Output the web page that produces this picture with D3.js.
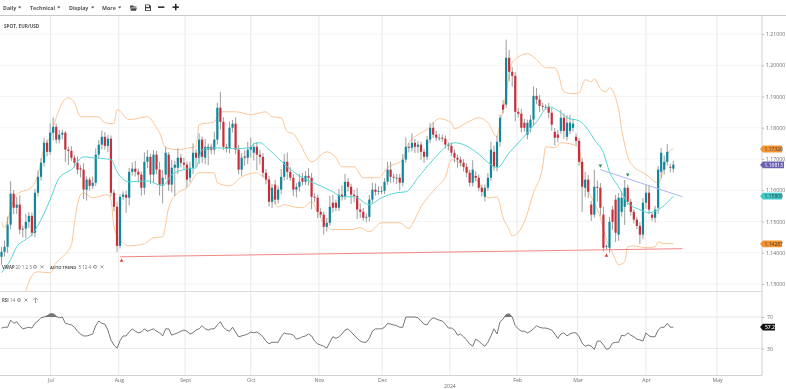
<!DOCTYPE html>
<html><head><meta charset="utf-8">
<script src="https://cdnjs.cloudflare.com/ajax/libs/d3/7.8.5/d3.min.js"></script>
<style>html,body{margin:0;padding:0;background:#fff;overflow:hidden}svg{display:block;filter:blur(.3px)}text{font-family:"Open Sans",sans-serif}</style>
</head><body><svg id="c" width="786" height="389"></svg>
<script>
const closes=[1.1403,1.1419,1.1490,1.1589,1.1544,1.1554,1.1474,1.1477,1.1499,1.1518,
1.1464,1.1592,1.1643,1.1688,1.1752,1.1723,1.1784,1.1803,1.1762,1.1778,
1.1784,1.1730,1.1726,1.1704,1.1688,1.1666,1.1666,1.1602,1.1634,1.1614,
1.1624,1.1714,1.1746,1.1771,1.1742,1.1765,1.1592,1.1547,1.1422,1.1579,
1.1586,1.1576,1.1659,1.1669,1.1659,1.1650,1.1608,1.1691,1.1707,1.1650,
1.1714,1.1666,1.1618,1.1640,1.1720,1.1618,1.1672,1.1682,1.1704,1.1688,
1.1682,1.1634,1.1672,1.1720,1.1704,1.1762,1.1707,1.1739,1.1739,1.1730,
1.1762,1.1864,1.1819,1.1739,1.1733,1.1800,1.1813,1.1730,1.1666,1.1704,
1.1704,1.1730,1.1739,1.1739,1.1714,1.1707,1.1656,1.1634,1.1563,1.1608,
1.1570,1.1602,1.1643,1.1691,1.1659,1.1640,1.1602,1.1611,1.1627,1.1627,
1.1646,1.1640,1.1579,1.1576,1.1531,1.1522,1.1483,1.1496,1.1547,1.1544,
1.1544,1.1586,1.1579,1.1627,1.1611,1.1586,1.1582,1.1538,1.1531,1.1512,
1.1515,1.1570,1.1602,1.1595,1.1598,1.1598,1.1627,1.1666,1.1643,1.1640,
1.1640,1.1624,1.1698,1.1739,1.1736,1.1752,1.1739,1.1746,1.1723,1.1707,
1.1762,1.1800,1.1778,1.1768,1.1768,1.1765,1.1746,1.1742,1.1720,1.1704,
1.1698,1.1688,1.1675,1.1656,1.1624,1.1666,1.1640,1.1608,1.1595,1.1608,
1.1640,1.1730,1.1675,1.1755,1.1832,1.1858,1.2024,1.1979,1.1966,1.1851,
1.1845,1.1800,1.1800,1.1816,1.1826,1.1902,1.1890,1.1870,1.1867,1.1867,
1.1848,1.1810,1.1768,1.1768,1.1832,1.1790,1.1816,1.1816,1.1813,1.1758,
1.1691,1.1611,1.1634,1.1595,1.1522,1.1611,1.1608,1.1544,1.1416,1.1422,
1.1499,1.1499,1.1464,1.1576,1.1576,1.1608,1.1563,1.1531,1.1506,1.1486,
1.1458,1.1560,1.1592,1.1538,1.1512,1.1538,1.1666,1.1720,1.1691,1.1723,
1.1672,1.1682];
const opens=[1.1387,1.1403,1.1419,1.1490,1.1589,1.1544,1.1554,1.1474,1.1477,1.1499,
1.1518,1.1464,1.1592,1.1643,1.1688,1.1752,1.1723,1.1784,1.1803,1.1762,
1.1778,1.1784,1.1730,1.1726,1.1704,1.1688,1.1670,1.1666,1.1602,1.1634,
1.1614,1.1624,1.1714,1.1746,1.1771,1.1742,1.1765,1.1592,1.1547,1.1422,
1.1579,1.1586,1.1576,1.1659,1.1669,1.1659,1.1650,1.1608,1.1691,1.1707,
1.1650,1.1714,1.1666,1.1618,1.1650,1.1714,1.1618,1.1672,1.1672,1.1704,
1.1688,1.1682,1.1640,1.1672,1.1720,1.1704,1.1762,1.1704,1.1730,1.1739,
1.1730,1.1762,1.1864,1.1819,1.1739,1.1733,1.1800,1.1813,1.1730,1.1666,
1.1708,1.1704,1.1730,1.1720,1.1739,1.1714,1.1707,1.1656,1.1634,1.1563,
1.1618,1.1570,1.1602,1.1643,1.1691,1.1659,1.1640,1.1602,1.1611,1.1640,
1.1627,1.1646,1.1640,1.1579,1.1576,1.1531,1.1522,1.1483,1.1496,1.1560,
1.1560,1.1544,1.1586,1.1579,1.1627,1.1611,1.1586,1.1582,1.1538,1.1531,
1.1512,1.1515,1.1570,1.1602,1.1595,1.1598,1.1598,1.1627,1.1666,1.1643,
1.1640,1.1640,1.1624,1.1698,1.1739,1.1736,1.1752,1.1739,1.1746,1.1723,
1.1707,1.1762,1.1800,1.1778,1.1768,1.1768,1.1765,1.1746,1.1742,1.1720,
1.1704,1.1698,1.1688,1.1675,1.1656,1.1624,1.1646,1.1640,1.1608,1.1579,
1.1608,1.1640,1.1723,1.1675,1.1755,1.1874,1.1874,1.2024,1.1979,1.1966,
1.1851,1.1845,1.1816,1.1778,1.1800,1.1826,1.1902,1.1890,1.1870,1.1867,
1.1867,1.1848,1.1787,1.1778,1.1790,1.1832,1.1771,1.1790,1.1800,1.1771,
1.1758,1.1691,1.1608,1.1634,1.1554,1.1522,1.1611,1.1608,1.1522,1.1419,
1.1416,1.1538,1.1570,1.1458,1.1531,1.1547,1.1608,1.1563,1.1531,1.1506,
1.1486,1.1458,1.1560,1.1592,1.1522,1.1512,1.1544,1.1659,1.1666,1.1691,
1.1675,1.1669];
// wick lengths beyond the candle body, in pips
const upperWickPips=[15,20,25,40,12,25,30,10,25,12,10,12,20,15,15,10,30,30,10,15,
10,6,10,15,8,20,10,20,10,8,20,20,15,20,15,12,10,10,15,8,
10,12,12,20,25,10,10,30,22,10,15,12,25,25,20,8,25,12,30,12,
15,10,20,30,12,20,10,25,10,10,25,16,51,15,10,20,12,20,15,15,
20,25,30,12,15,15,12,12,12,12,15,12,25,25,30,15,12,12,25,15,
15,25,15,12,10,12,10,15,35,25,10,18,30,25,12,10,15,25,20,12,
10,15,22,20,15,15,12,25,25,10,12,12,18,30,12,30,12,12,10,10,
12,15,18,12,12,10,10,8,10,10,10,10,12,12,10,30,15,10,10,10,
15,25,20,20,10,15,58,25,15,12,12,15,12,10,15,30,25,15,10,8,
12,15,12,15,25,15,25,25,15,10,10,12,25,15,12,55,20,15,25,5,
15,12,15,15,20,25,10,10,8,8,12,15,25,25,5,12,12,15,20,25,10,12];
const lowerWickPips=[25,15,20,15,20,20,15,25,30,20,12,15,12,12,12,15,10,25,12,12,
15,40,45,10,15,15,25,30,35,15,10,10,12,15,12,20,12,15,20,8,
10,48,25,12,15,25,25,22,20,30,25,15,35,60,15,20,25,90,20,15,
15,25,15,20,30,20,20,20,50,15,15,15,25,10,12,15,15,15,15,20,
25,20,25,25,50,25,15,15,15,20,15,12,15,12,25,10,20,25,15,12,
10,25,40,15,20,10,25,15,10,15,10,10,12,10,15,30,20,30,20,10,
15,15,12,12,10,10,10,10,20,15,20,25,12,10,15,12,20,20,25,20,
10,12,10,10,10,10,12,15,10,15,25,12,15,15,12,12,12,10,15,15,
10,10,12,15,15,12,10,30,35,30,12,15,12,15,15,20,15,20,12,10,
18,20,25,15,10,25,12,10,12,15,12,80,30,20,20,10,45,25,12,10,
15,25,30,20,15,58,10,12,12,10,30,15,20,15,10,15,20,20,15,12,15,12];
const upperDays=[0,1,2,5,10,12,14,16,18,20,22,24,26,29,32,34,37,38,42,48,51,52,54,58,62,64,65,70,72,77,82,84,87,89,92,94,96,98,102,107,110,112,116,119,124,127,132,134,137,140,144,148,149,153,157,160,163,164,165,168,170,173,176,179,182,183,185,188,190,192,194,195,197,199,200,203,204,205,206,208,211,212,216,218,219,221];
const upperBand=[1.1496,1.1480,1.1506,1.1586,1.1611,1.1650,1.1736,1.1771,1.1832,1.1880,1.1896,1.1880,1.1835,1.1835,1.1835,1.1816,1.1813,1.1858,1.1826,1.1835,1.1800,1.1784,1.1736,1.1730,1.1736,1.1739,1.1810,1.1819,1.1851,1.1851,1.1842,1.1845,1.1851,1.1835,1.1832,1.1787,1.1781,1.1752,1.1691,1.1723,1.1704,1.1675,1.1675,1.1640,1.1640,1.1672,1.1698,1.1752,1.1778,1.1794,1.1829,1.1816,1.1797,1.1816,1.1832,1.1816,1.1771,1.1816,1.1858,1.2008,1.2027,1.2037,1.2018,1.1992,1.1992,1.1976,1.1915,1.1909,1.1912,1.1954,1.1947,1.1957,1.1925,1.1915,1.1928,1.1858,1.1794,1.1746,1.1707,1.1675,1.1656,1.1650,1.1624,1.1672,1.1714,1.1733];
const lowerDays=[8,9,11,12,16,18,19,23,24,26,27,30,35,36,37,39,42,47,50,53,55,58,61,65,70,71,75,79,84,85,87,91,93,96,99,102,104,106,109,115,118,121,125,131,134,135,138,143,146,148,150,153,157,160,163,165,167,168,172,175,178,179,182,184,190,191,194,197,199,201,203,205,206,208,212,215,216,218,221];
const lowerBand=[1.1275,1.1307,1.1336,1.1339,1.1336,1.1368,1.1378,1.1426,1.1496,1.1586,1.1592,1.1576,1.1586,1.1570,1.1483,1.1442,1.1422,1.1429,1.1448,1.1451,1.1544,1.1592,1.1608,1.1656,1.1656,1.1624,1.1614,1.1643,1.1656,1.1650,1.1640,1.1547,1.1554,1.1547,1.1544,1.1563,1.1528,1.1496,1.1474,1.1474,1.1480,1.1467,1.1496,1.1496,1.1477,1.1490,1.1547,1.1608,1.1643,1.1698,1.1691,1.1666,1.1624,1.1576,1.1579,1.1512,1.1474,1.1454,1.1499,1.1592,1.1675,1.1739,1.1736,1.1752,1.1739,1.1643,1.1579,1.1512,1.1442,1.1400,1.1362,1.1371,1.1419,1.1422,1.1416,1.1419,1.1435,1.1429,1.1429];
const midDays=[0,3,5,8,10,13,16,19,23,27,30,36,38,42,48,53,56,60,64,66,71,76,82,83,85,88,94,99,104,109,112,116,121,125,130,133,137,142,149,152,156,161,163,167,171,176,180,184,186,190,194,195,198,200,203,206,210,213,217,221];
const midBand=[1.1336,1.1378,1.1419,1.1442,1.1458,1.1506,1.1570,1.1640,1.1666,1.1707,1.1704,1.1698,1.1659,1.1627,1.1630,1.1614,1.1650,1.1666,1.1672,1.1730,1.1736,1.1733,1.1736,1.1749,1.1752,1.1730,1.1675,1.1640,1.1618,1.1595,1.1579,1.1579,1.1554,1.1576,1.1592,1.1595,1.1640,1.1698,1.1752,1.1746,1.1723,1.1682,1.1672,1.1720,1.1762,1.1819,1.1867,1.1848,1.1832,1.1822,1.1778,1.1762,1.1720,1.1659,1.1611,1.1560,1.1538,1.1528,1.1544,1.1581];
const rsiValues=[56,57,57,66,62,64,59,55,56,57,56,62,65,69,70,71.5,74,74,71,69,
70,62,61,60,57,52,48.5,46,46,47,48.5,59,65,62,61,53.5,41,34.5,30.5,40,
46,46,51,55,52,50,51,55,52,53.5,55,52,50,46,55,55,47,48.5,50,52,
53.5,52,48.5,50,53.5,55,59,55,53.5,55,55,60,64,57,53.5,52,57,51,45,46,
47,48.5,51,50,51,48.5,45,39.5,36,38,38,38,45,50,48.5,48.5,47,42,43,45,
46,48.5,46,39.5,36,34.5,33,30.5,38,45,43,45,48.5,53.5,55,51,47,43,39.5,38,
38,43,52,55,55,55,57,62,61,60,59,57,57,70,70,70,70,69,65,61,
60,66,69,67.5,66,65,61,56,56,53.5,47,48.5,45,41,36,33,42,39.5,36,33,
38,46,55,48.5,64,67.5,73,74,70,59,55,52,52,50,52,55,59,57,56,56,
55,53.5,48.5,43,48.5,50,46,48.5,50,50,45,37,33,34.5,33,29,39.5,39.5,34.5,29,
30.5,37,38,38,47,46,50,47,45,42,41,39.5,50,46,45,45,53.5,57,57,62,57,57.2];
const xTickDays=[16.1,38.6,60.4,82,104.4,125.2,147.5,169.6,189.5,212,235.4];
const xTickLabels=["Jul","Aug","Sept","Oct","Nov","Dec","","Feb","Mar","Apr","May"];
const yearTickDay=147.5, yearTickLabel="2024";
const priceTicks=[1.13,1.14,1.15,1.16,1.17,1.18,1.19,1.20,1.21];
const rsiTicks=[30,70];
const tags=[{v:1.1732,t:"1.17320",c:"#f59331",w:22},{v:1.1681,t:"1.16813",c:"#6a62b0",w:24},{v:1.1581,t:"1.15809",c:"#3ec9c9",w:22},{v:1.14287,t:"1.14287",c:"#f59331",w:22}];
const supportLine=[[39,1.1387],[224,1.1413]];
const resistLine=[[197,1.1666],[224,1.1579]];
const downMarkers=[[39.5,1.1375],[199,1.1391]];
const upMarkers=[[197,1.1679],[206,1.1650]];
const toolbarItems=[["Daily",3,18],["Technical",30,57],["Display",69,91],["More",102,118]];

const svg=d3.select("#c");
const x=d3.scaleLinear().domain([0,250]).range([1.5,761.5]);
const y=d3.scaleLinear().domain([1.13,1.21]).range([284,34]);
const r=d3.scaleLinear().domain([30,70]).range([348.6,317]);
const gridV="#e9e9e9",gridH="#f4f4f4",txt="#6e6e6e";

// gridlines
svg.append("g").selectAll("line").data(priceTicks).join("line").attr("x1",0).attr("x2",762).attr("y1",d=>y(d)).attr("y2",d=>y(d)).attr("stroke",gridH);
svg.append("g").selectAll("line").data(rsiTicks).join("line").attr("x1",0).attr("x2",762).attr("y1",d=>r(d)).attr("y2",d=>r(d)).attr("stroke","#e2e2e2").attr("stroke-width",.8);
svg.append("g").selectAll("line").data(xTickDays).join("line").attr("x1",d=>x(d)).attr("x2",d=>x(d)).attr("y1",16).attr("y2",375).attr("stroke",gridV);

// bands
const lineOf=(days,vals,sc=y,curve=d3.curveMonotoneX)=>d3.line().x((d,i)=>x(days[i])).y(d=>sc(d)).curve(curve)(vals);
const clip=svg.append("defs");
clip.append("clipPath").attr("id","main").append("rect").attr("x",0).attr("y",16).attr("width",762).attr("height",275);
const main=svg.append("g").attr("clip-path","url(#main)");
main.append("path").attr("d",lineOf(upperDays,upperBand)).attr("fill","none").attr("stroke","#fbc596").attr("stroke-width",1);
main.append("path").attr("d",lineOf(lowerDays,lowerBand)).attr("fill","none").attr("stroke","#fbc596").attr("stroke-width",1);

// candles
const bars=closes.map((c,i)=>({i,o:opens[i],c,h:Math.max(opens[i],c)+upperWickPips[i]/1e4,l:Math.min(opens[i],c)-lowerWickPips[i]/1e4}));
main.append("g").selectAll("line").data(bars).join("line").attr("x1",d=>x(d.i)).attr("x2",d=>x(d.i)).attr("y1",d=>y(d.h)).attr("y2",d=>y(d.l)).attr("stroke","#9d9d9d").attr("stroke-width",1);
main.append("g").selectAll("rect").data(bars).join("rect").attr("x",d=>x(d.i)-1.1).attr("width",2.2)
 .attr("y",d=>y(Math.max(d.o,d.c))).attr("height",d=>Math.max(.8,Math.abs(y(d.o)-y(d.c)))).attr("fill",d=>d.c>=d.o?"#10889c":"#c92f3b");

// mid line
main.append("path").attr("d",lineOf(midDays,midBand)).attr("fill","none").attr("stroke","#55d3d3").attr("stroke-width",1);

// trend lines
const tl=d3.line().x(d=>x(d[0])).y(d=>y(d[1]));
main.append("path").attr("d",tl(supportLine)).attr("stroke","#f28585").attr("stroke-width",1).attr("fill","none");
main.append("path").attr("d",tl(resistLine)).attr("stroke","#a9b8ee").attr("stroke-width",1).attr("fill","none");
const tri=d3.symbol().type(d3.symbolTriangle).size(6);
main.append("g").selectAll("path").data(downMarkers).join("path").attr("d",tri).attr("transform",d=>`translate(${x(d[0])},${y(d[1])})`).attr("fill","#e23b3b");
main.append("g").selectAll("path").data(upMarkers).join("path").attr("d",tri).attr("transform",d=>`translate(${x(d[0])},${y(d[1])}) rotate(180)`).attr("fill","#2f8f5f");

// RSI pane
const rdays=rsiValues.map((d,i)=>i);
clip.append("clipPath").attr("id","ob").append("rect").attr("x",0).attr("y",292).attr("width",762).attr("height",r(70)-292);
svg.append("path").attr("clip-path","url(#ob)").attr("d",d3.area().x((d,i)=>x(i)).y0(r(70)).y1(d=>r(d))(rsiValues)).attr("fill","#777");
svg.append("path").attr("d",lineOf(rdays,rsiValues,r,d3.curveLinear)).attr("fill","none").attr("stroke","#666").attr("stroke-width",.9);

// frame
svg.append("rect").attr("x",0).attr("y",0).attr("width",786).attr("height",15).attr("fill","#fff");
svg.append("line").attr("x1",0).attr("x2",786).attr("y1",15.5).attr("y2",15.5).attr("stroke","#c9c9c9").attr("stroke-width",1.2);
svg.append("line").attr("x1",0).attr("x2",762).attr("y1",291.5).attr("y2",291.5).attr("stroke","#dcdcdc");
svg.append("line").attr("x1",0).attr("x2",762).attr("y1",375.5).attr("y2",375.5).attr("stroke","#d2d2d2");
svg.append("line").attr("x1",762).attr("x2",762).attr("y1",16).attr("y2",376).attr("stroke","#cfcfcf");

// axes
const styleAxis=g=>{g.select(".domain").remove();g.selectAll("line").attr("stroke","#bbb");g.selectAll("text").attr("fill",txt).attr("font-size",5.2);};
svg.append("g").attr("transform","translate(762,0)").call(d3.axisRight(y).tickValues(priceTicks).tickFormat(d3.format(".5f")).tickSize(2).tickPadding(2)).call(styleAxis);
svg.append("g").attr("transform","translate(762,0)").call(d3.axisRight(r).tickValues(rsiTicks).tickSize(2).tickPadding(3)).call(styleAxis);
svg.append("g").attr("transform","translate(0,375)").call(d3.axisBottom(x).tickValues(xTickDays).tickFormat((d,i)=>xTickLabels[i]).tickSize(0).tickPadding(3)).call(styleAxis);
svg.append("text").attr("x",x(yearTickDay)).attr("y",388).attr("text-anchor","middle").attr("fill",txt).attr("font-size",5.2).text(yearTickLabel);

// value tags
const tagPath=(w,h)=>`M0,0L3,${-h}H${w}V${h}H3Z`;
const tg=svg.append("g").selectAll("g").data(tags).join("g").attr("transform",d=>`translate(760,${y(d.v)})`);
tg.append("path").attr("d",d=>tagPath(d.w,3.4)).attr("fill",d=>d.c);
tg.append("text").attr("x",4.5).attr("y",1.9).attr("font-size",5).attr("fill",d=>d.c=="#6a62b0"?"#fff":"#3a3a3a").text(d=>d.t);
const rt=svg.append("g").attr("transform",`translate(760,${r(57.2)})`);
rt.append("path").attr("d",tagPath(15,3.4)).attr("fill","#111");
rt.append("text").attr("x",5).attr("y",1.9).attr("font-size",5).attr("fill","#fff").attr("font-weight",600).text("57.2");

// toolbar + labels
const bold=(t,xp,yp,fs=5.6,fill="#555")=>svg.append("text").attr("x",xp).attr("y",yp).attr("font-size",fs).attr("font-weight",700).attr("fill",fill).text(t);
toolbarItems.forEach(([t,a,b])=>{bold(t,a,9.6,5.3);svg.append("path").attr("d",`M${b},6.5h3.4l-1.7,2Z`).attr("fill","#555");});
svg.append("path").attr("d","M130,5.5h3l1,1h2.5v1h-5l-1,2.5ZM131.5,8.2h5.5l-1.2,2.5H130.5Z").attr("fill","#444");
svg.append("path").attr("d","M145,4.5h4.5l1.5,1.5v5h-6ZM146,5.3v1.8h3v-1.8ZM146,8.3v2h4v-2Z").attr("fill","#444").attr("fill-rule","evenodd");
svg.append("rect").attr("x",158).attr("y",6.4).attr("width",6.4).attr("height",1.5).attr("fill","#222");
svg.append("rect").attr("x",172.5).attr("y",6.4).attr("width",6.4).attr("height",1.5).attr("fill","#222");
svg.append("rect").attr("x",175).attr("y",3.9).attr("width",1.5).attr("height",6.4).attr("fill","#222");
bold("SPOT, EUR/USD",4,27.6,4.7);

const icons=(px,py)=>{svg.append("circle").attr("cx",px).attr("cy",py).attr("r",1.5).attr("fill","none").attr("stroke","#777").attr("stroke-width",.8);
 svg.append("path").attr("d",`M${px+5.5},${py-1.5}l3,3m0,-3l-3,3`).attr("stroke","#777").attr("stroke-width",.7);};
bold("VWAP",2,268.5,4.3);svg.append("text").attr("x",15.5).attr("y",268.5).attr("font-size",4.5).attr("fill",txt).text("20 1 2 3");icons(35,266.8);
bold("AUTO TREND",50,268.5,4.1);svg.append("text").attr("x",78.5).attr("y",268.5).attr("font-size",4.5).attr("fill",txt).text("5 12 4");icons(95,266.8);
bold("RSI",2,301.8,4.3);svg.append("text").attr("x",10).attr("y",301.8).attr("font-size",4.5).attr("fill",txt).text("14");icons(19,300);
svg.append("path").attr("d","M35.5,303v-5M33,300.2l2.5,-2.5l2.5,2.5").attr("fill","none").attr("stroke","#777").attr("stroke-width",.7);
</script></body></html>
